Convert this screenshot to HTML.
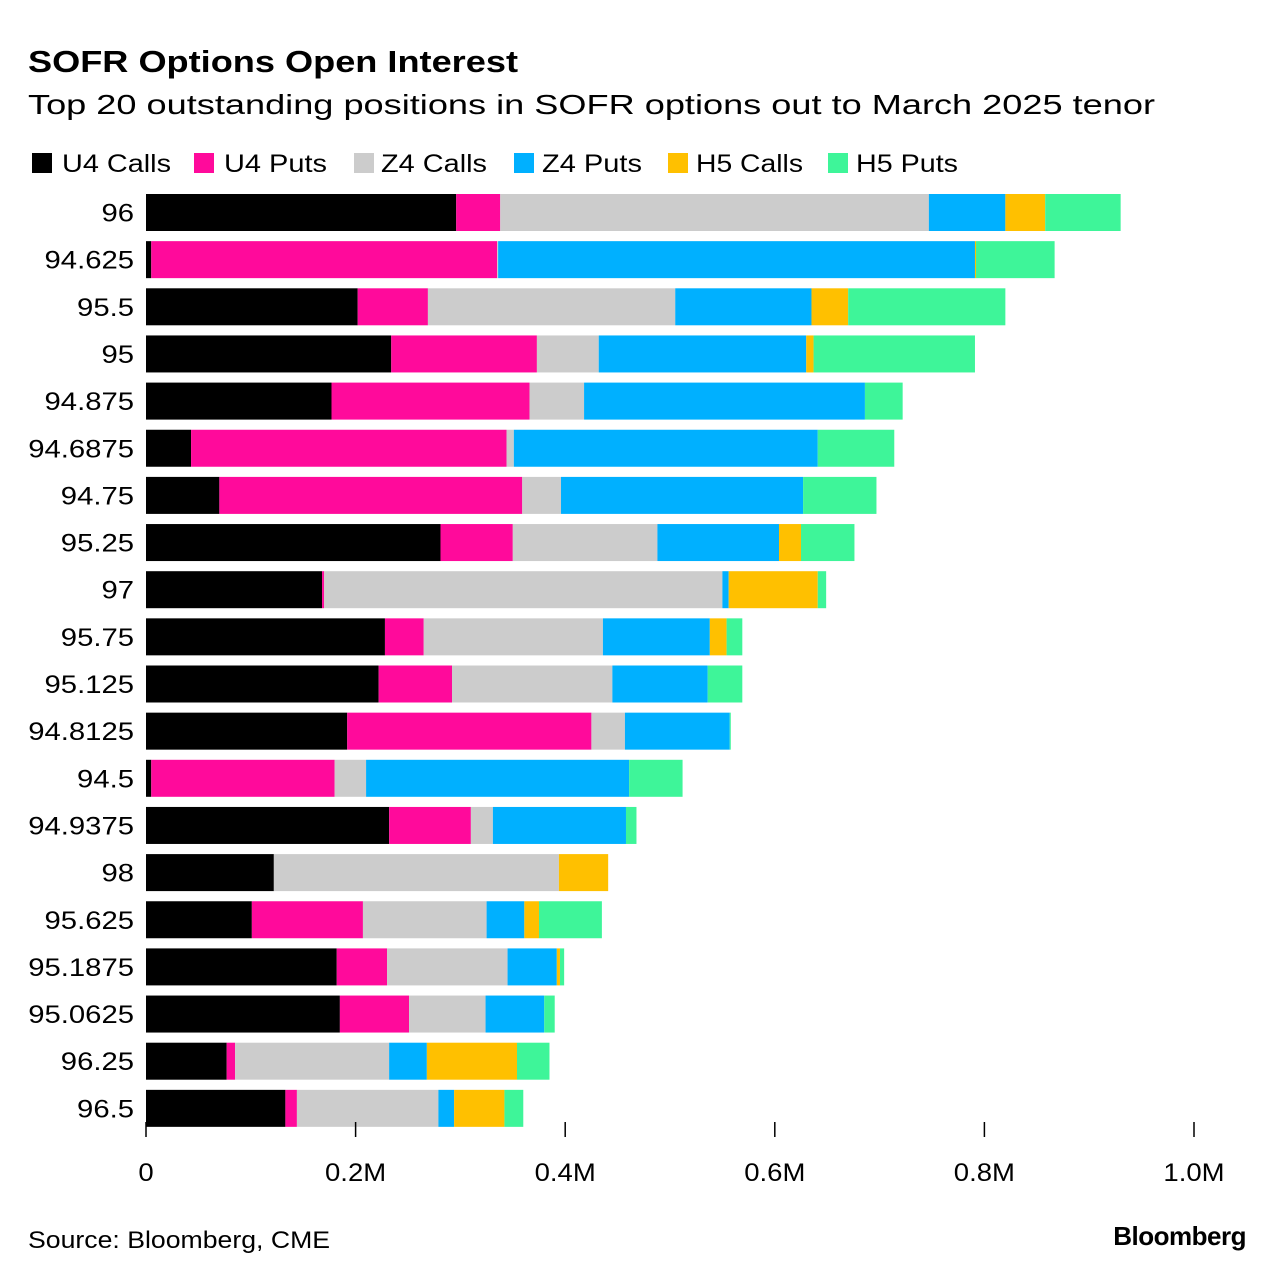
<!DOCTYPE html>
<html><head><meta charset="utf-8"><style>
body{margin:0;background:#fff;font-family:"Liberation Sans",sans-serif;}
#wrap{position:relative;width:1285px;height:1280px;overflow:hidden;}
</style></head><body>
<div id="wrap">
<svg id="chart" width="1285" height="1280">
<text x="28" y="72" font-size="31" font-weight="bold" fill="#000" textLength="490" lengthAdjust="spacingAndGlyphs">SOFR Options Open Interest</text>
<text x="28" y="114" font-size="28" fill="#000" textLength="1127" lengthAdjust="spacingAndGlyphs">Top 20 outstanding positions in SOFR options out to March 2025 tenor</text>
<g id="legend"></g>
<g id="bars"></g>
<g id="axis"></g>
<text id="src" x="28" y="1248" font-size="24" fill="#000">Source: Bloomberg, CME</text>
<text x="1246" y="1245" font-size="26" font-weight="bold" fill="#000" text-anchor="end" letter-spacing="-0.5">Bloomberg</text>
</svg>
</div>
<script>
const categories=["96","94.625","95.5","95","94.875","94.6875","94.75","95.25","97","95.75","95.125","94.8125","94.5","94.9375","98","95.625","95.1875","95.0625","96.25","96.5"];
const seriesNames=["U4 Calls","U4 Puts","Z4 Calls","Z4 Puts","H5 Calls","H5 Puts"];
const u4Calls=[296,5,202,234,177,43,70,281,168,228,222,192,5,232,122,101,182,185,77,133];
const u4Puts=[42,330,67,139,189,301,289,69,2,37,70,233,175,78,0,106,48,66,8,11];
const z4Calls=[409,1,236,59,52,7,37,138,380,171,153,32,30,21,272,118,115,73,147,135];
const z4Puts=[73,455,130,198,268,290,231,116,6,102,91,100,251,127,0,36,47,56,36,15];
const h5Calls=[38,1,35,7,0,0,0,21,85,16,0,0,0,0,47,14,3,0,86,48];
const h5Puts=[72,75,150,154,36,73,70,51,8,15,33,1,51,10,0,60,4,10,31,18];
const ticks=[0,200,400,600,800,1000];
const tickLabels=["0","0.2M","0.4M","0.6M","0.8M","1.0M"];
const colors=["#000000","#ff0a9b","#cccccc","#00b0ff","#ffc000","#3ef599"];
const series=[u4Calls,u4Puts,z4Calls,z4Puts,h5Calls,h5Puts];
const NS="http://www.w3.org/2000/svg";
const x0=146,x1=1194;
function xs(v){return x0+(x1-x0)*v/1000;}
function yc(i){return 212.5+i*47.15;}
function stretch(t,f){const w=t.getComputedTextLength();t.setAttribute('textLength',w*f);t.setAttribute('lengthAdjust','spacingAndGlyphs');}
const bh=37;
const bars=document.getElementById('bars');
categories.forEach((c,i)=>{
  const t=document.createElementNS(NS,'text');
  t.setAttribute('x',134);t.setAttribute('y',yc(i)+9);t.setAttribute('text-anchor','end');
  t.setAttribute('font-size','25');t.textContent=c;
  
  
  bars.appendChild(t);
  stretch(t,1.17);
  let acc=0;
  series.forEach((s,k)=>{
    const v=s[i];if(v<=0)return;
    const r=document.createElementNS(NS,'rect');
    r.setAttribute('x',xs(acc));r.setAttribute('width',xs(acc+v)-xs(acc));
    r.setAttribute('y',yc(i)-bh/2);r.setAttribute('height',bh);r.setAttribute('fill',colors[k]);
    
    
    bars.appendChild(r);acc+=v;
  });
});
const axis=document.getElementById('axis');
ticks.forEach((tv,j)=>{
  const l=document.createElementNS(NS,'line');
  l.setAttribute('x1',xs(tv));l.setAttribute('x2',xs(tv));l.setAttribute('y1',1122);l.setAttribute('y2',1137);
  l.setAttribute('stroke','#000');l.setAttribute('stroke-width','1.5');
  
  
  axis.appendChild(l);
  const t=document.createElementNS(NS,'text');
  t.setAttribute('x',xs(tv));t.setAttribute('y',1181);t.setAttribute('text-anchor','middle');
  t.setAttribute('font-size','25');t.textContent=tickLabels[j];
  
  
  axis.appendChild(t);
  stretch(t,1.1);
});
stretch(document.getElementById('src'),1.11);
const lg=document.getElementById('legend');
const lx=[32,194,354,514,668,828];
const ltx=[62,224,381,542,696,856];
const lw=[109,103,106,100,107,102];
seriesNames.forEach((n,k)=>{
  const r=document.createElementNS(NS,'rect');
  r.setAttribute('x',lx[k]);r.setAttribute('y',153);r.setAttribute('width',20);r.setAttribute('height',20);r.setAttribute('fill',colors[k]);
  
  
  lg.appendChild(r);
  const t=document.createElementNS(NS,'text');
  t.setAttribute('x',ltx[k]);t.setAttribute('y',172);t.setAttribute('font-size','25');t.textContent=n;
  t.setAttribute('textLength',lw[k]);t.setAttribute('lengthAdjust','spacingAndGlyphs');
  
  
  lg.appendChild(t);
});
</script>
</body></html>
